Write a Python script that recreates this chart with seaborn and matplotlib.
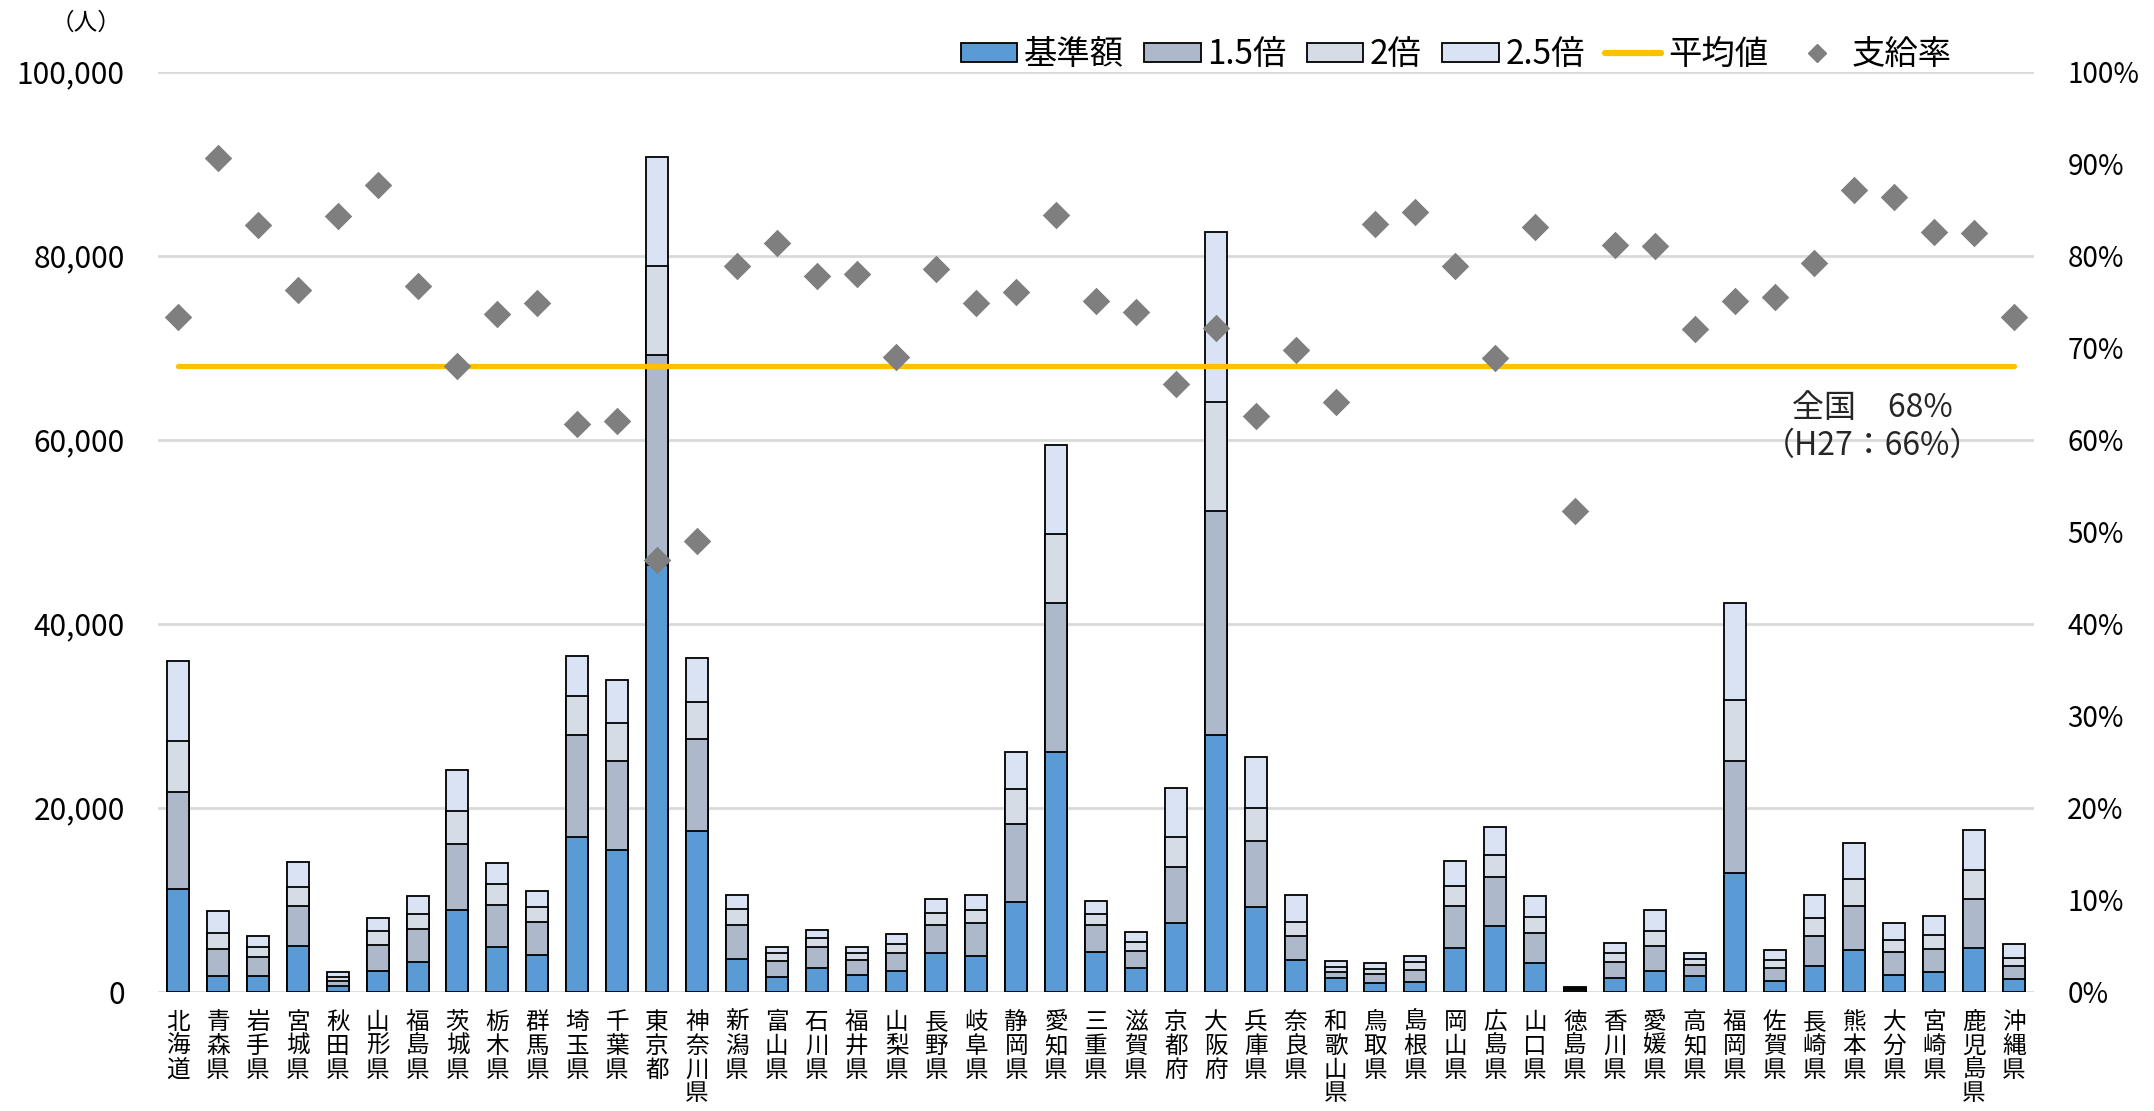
import numpy as np
import matplotlib
matplotlib.use("Agg")
import matplotlib.pyplot as plt
import seaborn as sns
from matplotlib.patches import Patch
from matplotlib.lines import Line2D
from matplotlib.ticker import FuncFormatter, MultipleLocator

# ---------------- data ----------------
prefectures = [
    "北海道", "青森県", "岩手県", "宮城県", "秋田県", "山形県", "福島県", "茨城県",
    "栃木県", "群馬県", "埼玉県", "千葉県", "東京都", "神奈川県", "新潟県", "富山県",
    "石川県", "福井県", "山梨県", "長野県", "岐阜県", "静岡県", "愛知県", "三重県",
    "滋賀県", "京都府", "大阪府", "兵庫県", "奈良県", "和歌山県", "鳥取県", "島根県",
    "岡山県", "広島県", "山口県", "徳島県", "香川県", "愛媛県", "高知県", "福岡県",
    "佐賀県", "長崎県", "熊本県", "大分県", "宮崎県", "鹿児島県", "沖縄県",
]
# 基準額
base = [11200, 1750, 1700, 5000, 620, 2200, 3200, 8900, 4900, 3950, 16850, 15350,
        46400, 17500, 3550, 1550, 2550, 1800, 2300, 4150, 3850, 9800, 26000, 4300,
        2600, 7500, 27900, 9150, 3400, 1500, 900, 1050, 4700, 7100, 3100, 200,
        1450, 2250, 1700, 12850, 1150, 2800, 4500, 1800, 2100, 4750, 1350]
# 1.5倍
x15 = [10450, 2850, 2050, 4300, 540, 2850, 3600, 7150, 4500, 3600, 11000, 9700,
       22750, 9950, 3650, 1800, 2350, 1650, 1900, 3050, 3650, 8450, 16300, 2900,
       1850, 6100, 24350, 7250, 2700, 650, 1000, 1300, 4650, 5400, 3300, 120,
       1750, 2700, 1150, 12200, 1450, 3300, 4850, 2550, 2550, 5350, 1450]
# 2倍
x20 = [5650, 1800, 1150, 2050, 470, 1500, 1600, 3550, 2300, 1700, 4300, 4100,
       9750, 4000, 1800, 800, 900, 700, 950, 1350, 1400, 3800, 7500, 1250,
       950, 3250, 11850, 3600, 1500, 500, 600, 850, 2100, 2400, 1750, 80,
       950, 1600, 700, 6600, 800, 1900, 2950, 1300, 1550, 3100, 900]
# 2.5倍
x25 = [8600, 2350, 1200, 2750, 540, 1450, 2000, 4500, 2300, 1700, 4300, 4750,
       11800, 4850, 1550, 700, 950, 750, 1150, 1500, 1650, 4000, 9650, 1450,
       1050, 5250, 18450, 5500, 2900, 700, 600, 650, 2800, 3050, 2200, 100,
       1150, 2300, 650, 10600, 1150, 2500, 3850, 1800, 2050, 4350, 1500]
# 支給率 (%)
rate = [73.3, 90.6, 83.3, 76.3, 84.3, 87.7, 76.7, 68.0, 73.7, 74.9, 61.7, 62.0,
        46.9, 49.0, 78.9, 81.4, 77.8, 78.0, 69.0, 78.5, 74.9, 76.1, 84.4, 75.1,
        73.9, 66.0, 72.1, 62.6, 69.8, 64.1, 83.4, 84.7, 78.9, 68.9, 83.1, 52.2,
        81.2, 81.1, 72.0, 75.1, 75.5, 79.2, 87.1, 86.4, 82.6, 82.5, 73.3]
national_avg = 68   # 全国 平均値 (%)
h27_avg = 66        # H27

series_labels = ["基準額", "1.5倍", "2倍", "2.5倍"]
colors = ["#5B9BD5", "#ADB9CA", "#D6DCE5", "#DAE3F3"]

# ---------------- style ----------------
sns.set_theme(style="white")
plt.rcParams["font.family"] = ["Noto Sans CJK JP", "DejaVu Sans"]
plt.rcParams["text.color"] = "black"

fig = plt.figure(figsize=(21.54, 11.11), dpi=100)
ax = fig.add_axes([0.0734, 0.1074, 0.8709, 0.8281])

layers = [np.asarray(base), np.asarray(x15), np.asarray(x20), np.asarray(x25)]
cum = np.cumsum(np.vstack(layers), axis=0)

# draw stacked bars (tallest cumulative first)
for i in range(3, -1, -1):
    sns.barplot(x=prefectures, y=cum[i], color=colors[i], saturation=1,
                edgecolor="black", linewidth=1.3, width=0.55, errorbar=None,
                ax=ax, zorder=2)

ax.set_ylim(0, 100000)
ax.set_xlim(-0.5, len(prefectures) - 0.5)
ax.yaxis.set_major_locator(MultipleLocator(20000))
ax.yaxis.set_major_formatter(FuncFormatter(lambda v, _: f"{int(v):,}"))
ax.set_axisbelow(True)
ax.yaxis.grid(True, color="#D9D9D9", linewidth=2)
ax.xaxis.grid(False)
for s in ax.spines.values():
    s.set_visible(False)
ax.set_xlabel("")
ax.set_ylabel("")

# secondary axis: rate + average line
ax2 = ax.twinx()
sns.lineplot(x=np.arange(len(prefectures)), y=np.full(len(prefectures), national_avg / 100),
             color="#FFC000", linewidth=3.8, ax=ax2, zorder=3, legend=False)
sns.stripplot(x=prefectures, y=np.asarray(rate) / 100, jitter=False, marker="D",
              size=14, color="#7F7F7F", linewidth=0, ax=ax2, zorder=4)
ax2.set_ylim(0, 1.0)
ax2.set_xlim(-0.5, len(prefectures) - 0.5)
ax2.yaxis.set_major_locator(MultipleLocator(0.1))
ax2.yaxis.set_major_formatter(FuncFormatter(lambda v, _: f"{int(round(v * 100))}%"))
ax2.grid(False)
for s in ax2.spines.values():
    s.set_visible(False)
ax2.set_xlabel("")
ax2.set_ylabel("")

# ticks
ax.set_xticks(range(len(prefectures)))
ax.set_xticklabels(["\n".join(p) for p in prefectures], fontsize=17, linespacing=1.04,
                   va="top")
ax.tick_params(axis="x", length=0, pad=14, colors="black")
ax.tick_params(axis="y", length=0, pad=24, labelsize=21.5, colors="black")
ax2.tick_params(axis="y", length=0, pad=24, labelsize=20, colors="black")

# annotation
ax2.text(42.46, 0.614, f"全国　{national_avg}%\n（H27：{h27_avg}%）", ha="center",
         va="center", fontsize=23, color="#262626", linespacing=1.25)

fig.text(0.04, 0.979, "（人）", ha="center", va="center", fontsize=17, color="black")

# legend
handles = [Patch(facecolor=c, edgecolor="black", linewidth=1.3) for c in colors]
handles.append(Line2D([], [], color="#FFC000", linewidth=4.5))
handles.append(Line2D([], [], color="#7F7F7F", marker="D", linestyle="None", markersize=9))
labels = series_labels + ["平均値", "支給率"]
fig.legend(handles, labels, loc="center", bbox_to_anchor=(0.676, 0.951), ncol=6,
           frameon=False, fontsize=24, handlelength=1.7, handleheight=0.5,
           handletextpad=0.2, columnspacing=0.6)

fig.savefig("out.png", dpi=100)
